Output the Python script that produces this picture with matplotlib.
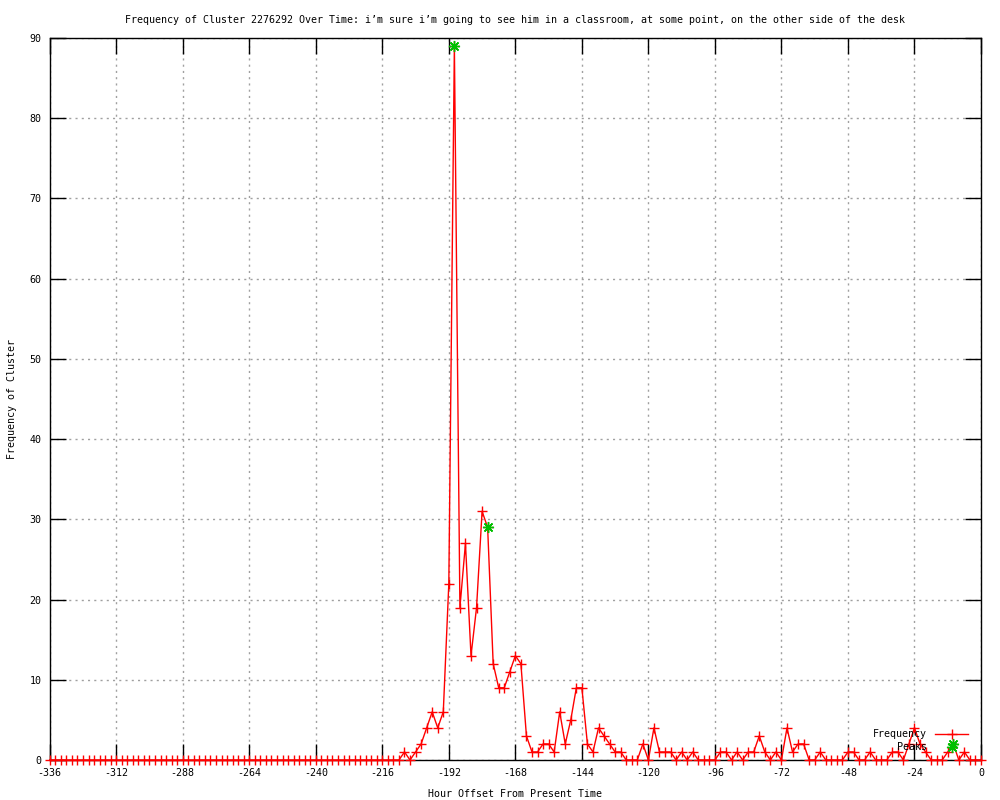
import numpy as np
import matplotlib
matplotlib.use("Agg")
import matplotlib.pyplot as plt

plt.rcParams['font.family'] = ['DejaVu Sans Mono']
plt.rcParams['axes.unicode_minus'] = False

title = ("Frequency of Cluster 2276292 Over Time: i\u2019m sure i\u2019m going to see him "
         "in a classroom, at some point, on the other side of the desk")

# hour offsets, one sample every 2 hours
hours = np.arange(-336, 1, 2)

freq = [
    # -336 .. -210
    0, 0, 0, 0, 0, 0, 0, 0, 0, 0, 0, 0, 0, 0, 0, 0,
    0, 0, 0, 0, 0, 0, 0, 0, 0, 0, 0, 0, 0, 0, 0, 0,
    0, 0, 0, 0, 0, 0, 0, 0, 0, 0, 0, 0, 0, 0, 0, 0,
    0, 0, 0, 0, 0, 0, 0, 0, 0, 0, 0, 0, 0, 0, 0, 0,
    # -208 .. -160
    1, 0, 1, 2, 4, 6, 4, 6, 22, 89, 19, 27, 13, 19, 31, 29, 12, 9, 9, 11, 13, 12, 3, 1, 1,
    # -158 .. -110
    2, 2, 1, 6, 2, 5, 9, 9, 2, 1, 4, 3, 2, 1, 1, 0, 0, 0, 2, 0, 4, 1, 1, 1, 0,
    # -108 .. -60
    1, 0, 1, 0, 0, 0, 0, 1, 1, 0, 1, 0, 1, 1, 3, 1, 0, 1, 0, 4, 1, 2, 2, 0, 0,
    # -58 .. -10
    1, 0, 0, 0, 0, 1, 1, 0, 0, 1, 0, 0, 0, 1, 1, 0, 2, 4, 2, 1, 0, 0, 0, 1, 2,
    # -8 .. 0
    0, 1, 0, 0, 0,
]

peak_hours = [-190, -178, -10]
peak_vals = [89, 29, 2]

fs = 7.2

fig = plt.figure(figsize=(10, 8), dpi=100)
ax = fig.add_axes([0.0497, 0.05, 0.9313, 0.9025])

ax.plot(hours, freq, color='red', lw=1, marker='+', ms=7, mew=1,
        label='Frequency', clip_on=False, zorder=3)
ax.plot(peak_hours, peak_vals, ls='none', color='#00c000', marker=(8, 2, 0),
        ms=8, mew=1, label='Peaks', clip_on=False, zorder=4)

ax.set_xlim(-336, 0)
ax.set_ylim(0, 90)
ax.set_xticks(np.arange(-336, 1, 24))
ax.set_yticks(np.arange(0, 91, 10))
ax.grid(True, color='#a0a0a0', ls=(0, (1.5, 3)), lw=1)
ax.tick_params(direction='in', length=11.5, width=1, top=True, right=True,
               labelsize=fs, pad=6)
for s in ax.spines.values():
    s.set_linewidth(1)

ax.set_title(title, fontsize=fs, pad=11)
ax.set_xlabel('Hour Offset From Present Time', fontsize=fs, labelpad=8)
ax.set_ylabel('Frequency of Cluster', fontsize=fs, labelpad=9)

ax.legend(loc='lower right', frameon=False, markerfirst=False, fontsize=fs,
          handlelength=3.3, labelspacing=0.3, borderaxespad=0.4,
          bbox_to_anchor=(0.995, 0.0))

fig.savefig('out.png', dpi=100)
